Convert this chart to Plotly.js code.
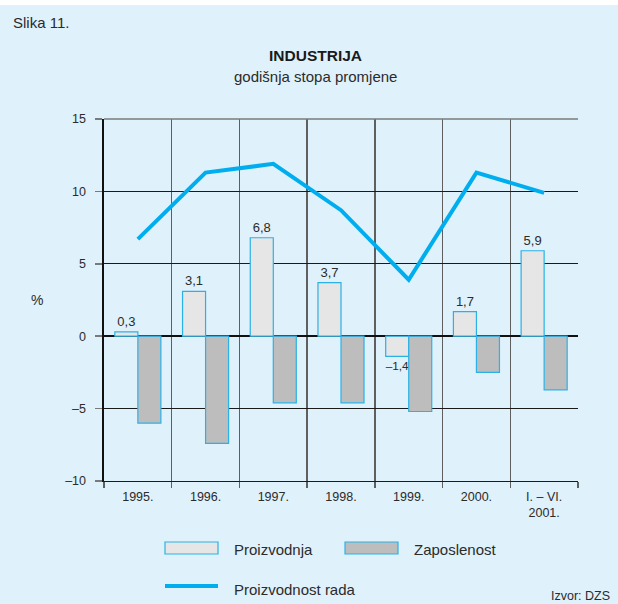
<!DOCTYPE html>
<html>
<head>
<meta charset="utf-8">
<script src="https://cdn.plot.ly/plotly-3.0.1.min.js"></script>
<style>
html,body{margin:0;padding:0;background:#ffffff;}
#chart{position:absolute;left:0;top:5px;width:618px;height:599px;}
</style>
</head>
<body>
<div id="chart"></div>
<script>
// ---- data ----
const categories = ["1995.", "1996.", "1997.", "1998.", "1999.", "2000.", "I. – VI.<br>2001."];
const proizvodnja = [0.3, 3.1, 6.8, 3.7, -1.4, 1.7, 5.9];
const zaposlenost = [-6.0, -7.4, -4.6, -4.6, -5.2, -2.5, -3.7];
const proizvodnostRada = [6.7, 11.3, 11.9, 8.7, 3.9, 11.3, 9.9];
const yTicks = [-10, -5, 0, 5, 10, 15];
const yTickText = ["–10", "–5", "0", "5", "10", "15"];
const seriesNames = ["Proizvodnja", "Zaposlenost", "Proizvodnost rada"];

// ---- geometry helpers (page pixels -> paper coords) ----
const L = 104, R = 578, T = 119, B = 481;
const px = x => (x - L) / (R - L);
const py = y => (B - y) / (B - T);

const FONT = "Liberation Sans, Arial, Helvetica, sans-serif";
const BG = "#dff1fb";
const EDGE = "#2cb1e6";
const TXT = "#2b2b2b";

const fmt = v => v.toFixed(1).replace(".", ",").replace("-", "–");

const traces = [
  {
    type: "bar", name: seriesNames[0], x: categories, y: proizvodnja,
    marker: {color: "#e6e6e6", line: {color: EDGE, width: 1.2}},
    text: proizvodnja.map(fmt), textposition: "outside", cliponaxis: false,
    textfont: {family: FONT, size: 13, color: TXT},
    hoverinfo: "skip"
  },
  {
    type: "bar", name: seriesNames[1], x: categories, y: zaposlenost,
    marker: {color: "#bdbdbd", line: {color: EDGE, width: 1.2}},
    hoverinfo: "skip"
  },
  {
    type: "scatter", mode: "lines", name: seriesNames[2], x: categories, y: proizvodnostRada,
    line: {color: "#00aeef", width: 4}, hoverinfo: "skip"
  }
];

const shapes = [
  // gray top frame line
  {type: "line", xref: "paper", yref: "paper", x0: 0, x1: 1, y0: 1, y1: 1,
   line: {color: "#7a7a7a", width: 1.5}},
  // legend swatches
  {type: "rect", xref: "paper", yref: "paper", x0: px(165), x1: px(218), y0: py(554), y1: py(542),
   fillcolor: "#e6e6e6", line: {color: EDGE, width: 1.2}},
  {type: "rect", xref: "paper", yref: "paper", x0: px(345), x1: px(398), y0: py(554), y1: py(542),
   fillcolor: "#bdbdbd", line: {color: EDGE, width: 1.2}},
  {type: "line", xref: "paper", yref: "paper", x0: px(165), x1: px(218), y0: py(586), y1: py(586),
   line: {color: "#00aeef", width: 4}}
];

const ann = (text, x, y, opts) => Object.assign({
  text: text, xref: "paper", yref: "paper", x: px(x), y: py(y), showarrow: false,
  xanchor: "left", yanchor: "middle", font: {family: FONT, size: 15, color: TXT}
}, opts || {});

const annotations = [
  ann("Slika 11.", 11, 22, {font: {family: FONT, size: 15, color: TXT}}),
  ann("<b>INDUSTRIJA</b>", 315, 56, {xanchor: "center", font: {family: FONT, size: 15.5, color: "#1a1a1a"}}),
  ann("godišnja stopa promjene", 315, 76, {xanchor: "center", font: {family: FONT, size: 15, color: TXT}}),
  ann("%", 37, 300, {xanchor: "center", font: {family: FONT, size: 14, color: TXT}}),
  ann(seriesNames[0], 232, 549),
  ann(seriesNames[1], 412, 549),
  ann(seriesNames[2], 232, 589),
  ann("Izvor: DZS", 612, 596, {xanchor: "right", font: {family: FONT, size: 12.5, color: TXT}})
];

const layout = {
  width: 618, height: 599,
  margin: {l: L, r: 618 - R, t: T - 5, b: 604 - B},
  paper_bgcolor: BG, plot_bgcolor: BG,
  showlegend: false,
  barmode: "group", bargap: 0.32, bargroupgap: 0,
  separators: ", ",
  font: {family: FONT, size: 13, color: TXT},
  xaxis: {
    type: "category", tickson: "boundaries",
    showgrid: true, gridcolor: "#5f5f5f", gridwidth: 1.5,
    ticks: "outside", ticklen: 6, tickcolor: "#5f5f5f", tickwidth: 1.5,
    showline: true, linecolor: "#1a1a1a", linewidth: 1,
    tickfont: {family: FONT, size: 12.5, color: TXT},
    ticklabelstandoff: 4,
    fixedrange: true
  },
  yaxis: {
    range: [-10, 15], tickvals: yTicks, ticktext: yTickText,
    showgrid: true, gridcolor: "#1a1a1a", gridwidth: 1,
    zeroline: true, zerolinecolor: "#111111", zerolinewidth: 2.5,
    showline: true, linecolor: "#111111", linewidth: 2.5,
    ticks: "outside", ticklen: 7, tickcolor: "#7a7a7a", tickwidth: 1.5,
    tickfont: {family: FONT, size: 12.5, color: TXT},
    ticklabelstandoff: 6,
    fixedrange: true
  },
  shapes: shapes,
  annotations: annotations
};

Plotly.newPlot("chart", traces, layout, {displayModeBar: false, staticPlot: true});
</script>
</body>
</html>
